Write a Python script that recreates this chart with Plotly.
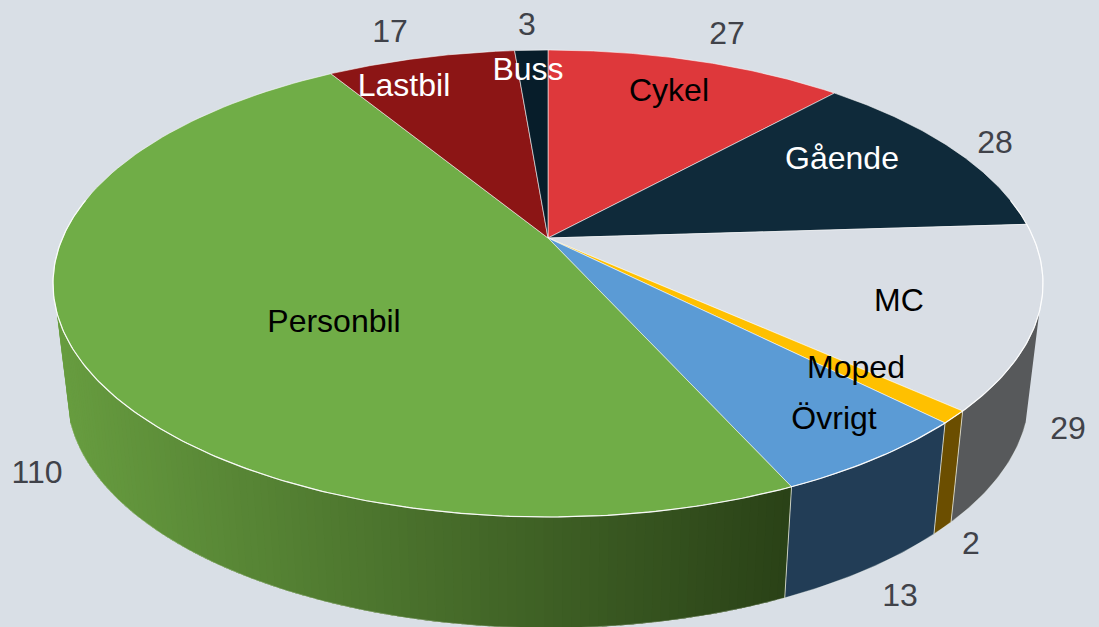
import numpy as np
import plotly.graph_objects as go

categories = ["Cykel", "Gående", "MC", "Moped", "Övrigt", "Personbil", "Lastbil", "Buss"]
values = [27, 28, 29, 2, 13, 110, 17, 3]

top_colors = ["#de383b", "#0f2a3a", "#d9dee5", "#ffc000", "#5b9bd5", "#70ad47", "#8c1515", "#071d2a"]
side_colors = ["#8a2224", "#09192a", "#57595b", "#6b4e00", "#223d56", None, "#5a0d0d", "#04121a"]
name_colors = ["#000000", "#ffffff", "#000000", "#000000", "#000000", "#000000", "#ffffff", "#ffffff"]

name_x = [669, 842, 899, 856, 834, 334, 404, 528]
name_y = [93, 161, 303, 370, 421, 324, 88, 72]
value_x = [727, 995, 1068, 971, 900, 37, 390, 527]
value_y = [36, 145, 431, 546, 598, 475, 34, 27]

BG = "#d9dfe6"
CX, CY, A, B, K = 548, 238, 485.5, 224.6, 0.195
SHRINK, DEPTH = 0.972, 111


def top(t):
    u, v = np.sin(t), np.cos(t)
    w = 1 + K * v
    return CX + A * u / w, CY - B * v / w


def bottom(t):
    x, y = top(t)
    return CX + (x - CX) * SHRINK, y + DEPTH


def mix(c1, c2, f):
    return "rgb(%d,%d,%d)" % tuple(round(a + (b - a) * f) for a, b in zip(c1, c2))


fractions = np.cumsum([0] + values) / sum(values)
angles = fractions * 2 * np.pi
VIS_A, VIS_B = np.radians(108), np.radians(252)

fig = go.Figure()


def poly(x, y, fill, line=None, width=0):
    fig.add_trace(go.Scatter(x=list(x), y=list(y), mode="lines", fill="toself", fillcolor=fill,
                             line=dict(color=line or fill, width=width), hoverinfo="skip"))


# outer side wall
for i in range(len(values)):
    a0, a1 = max(angles[i], VIS_A), min(angles[i + 1], VIS_B)
    if a0 >= a1:
        continue
    if side_colors[i] is not None:
        t = np.linspace(a0, a1, 60)
        xt, yt = top(t)
        xb, yb = bottom(t)
        poly(np.r_[xt, xb[::-1]], np.r_[yt, yb[::-1]], side_colors[i])
    else:
        # painter's order from the far end, each band overlapping the next, so no seams show
        edges = np.linspace(a0, a1, 110)
        for e0 in edges[:-1]:
            t = np.linspace(e0, a1, 2) if a1 - e0 < 0.02 else np.linspace(e0, min(e0 + 0.04, a1), 4)
            xt, yt = top(t)
            xb, yb = bottom(t)
            f = np.clip((xb[0] - 60) / (785 - 60), 0, 1)
            c = mix((104, 158, 64), (42, 66, 23), f)
            poly(np.r_[xt, xb[::-1]], np.r_[yt, yb[::-1]], c)

# light seams on the side wall
for a in angles:
    if VIS_A < a < VIS_B:
        xt, yt = top(a)
        xb, yb = bottom(a)
        fig.add_trace(go.Scatter(x=[xt, xb], y=[yt, yb], mode="lines", hoverinfo="skip",
                                 line=dict(color="rgba(240,240,225,0.75)", width=1)))

# bottom edge highlight
t = np.linspace(VIS_A, VIS_B, 200)
xb, yb = bottom(t)
fig.add_trace(go.Scatter(x=xb, y=yb, mode="lines", hoverinfo="skip",
                         line=dict(color="rgba(240,245,235,0.3)", width=1)))

# top face
for i in range(len(values)):
    t = np.linspace(angles[i], angles[i + 1], 120)
    x, y = top(t)
    poly(np.r_[CX, x, CX], np.r_[CY, y, CY], top_colors[i], line="rgba(255,255,255,0.55)", width=1)

# rim highlight
t = np.linspace(np.radians(80), np.radians(280), 300)
x, y = top(t)
fig.add_trace(go.Scatter(x=x, y=y, mode="lines", hoverinfo="skip",
                         line=dict(color="rgba(255,255,255,0.9)", width=1.2)))

font = "Liberation Sans, Arial, sans-serif"
fig.add_trace(go.Scatter(x=name_x, y=name_y, mode="text", text=categories, hoverinfo="skip",
                         textposition="middle center",
                         textfont=dict(family=font, size=32, color=name_colors)))
fig.add_trace(go.Scatter(x=value_x, y=value_y, mode="text", text=[str(v) for v in values], hoverinfo="skip",
                         textposition="middle center",
                         textfont=dict(family=font, size=32, color="#404249")))

fig.update_layout(
    width=1099, height=627, margin=dict(l=0, r=0, t=0, b=0), showlegend=False,
    paper_bgcolor=BG, plot_bgcolor=BG,
    xaxis=dict(range=[0, 1099], visible=False, fixedrange=True),
    yaxis=dict(range=[627, 0], visible=False, fixedrange=True),
)
fig.write_html("out.html", config={"displayModeBar": False},
               post_script="document.body.style.margin='0';document.body.style.overflow='hidden';")
